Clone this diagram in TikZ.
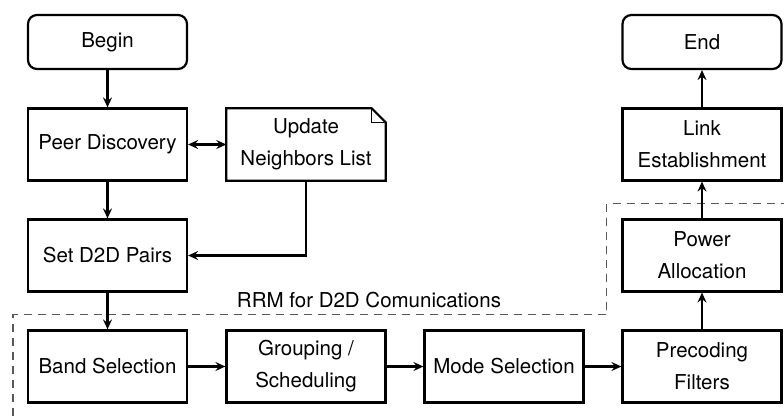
\documentclass[tikz,border=0pt]{standalone}
\usepackage{fontspec}
\setmainfont{TeX Gyre Heros}
\usetikzlibrary{arrows.meta}
\begin{document}
\begin{tikzpicture}[x=1pt,y=-1pt,
  every node/.style={font=\fontsize{20.5}{32}\selectfont, align=center},
  box/.style={draw, line width=2.2pt, minimum width=159pt, minimum height=72pt, inner sep=0pt},
  term/.style={draw, line width=2.2pt, rounded corners=9pt, minimum width=159pt, minimum height=54pt, inner sep=0pt},
  arr/.style={line width=2.2pt, -{Stealth[length=10pt,width=9pt,inset=3.5pt]}},
  darr/.style={line width=2.2pt, {Stealth[length=10pt,width=9pt,inset=3.5pt]}-{Stealth[length=10pt,width=9pt,inset=3.5pt]}},
  region/.style={dashed, draw=black!65, line width=1.4pt, dash pattern=on 8pt off 6pt}]
\useasboundingbox (0,0) rectangle (784,415);
\begin{scope}
\clip (0,0) rectangle (784,415);
\draw[region] (13,430) -- (13,314.5) -- (606.5,314.5) -- (606.5,203.5) -- (800,203.5);
\end{scope}
\node (rrm) at (369,300) {RRM for D2D Comunications};
\node[term] (begin) at (107.5,42) {Begin};
\node[box] (peer) at (107.5,144.5) {Peer Discovery};
\node[minimum width=159pt, minimum height=72pt, inner sep=0pt] (upd) at (306,144.5) {Update\\Neighbors List};
\draw[line width=2.2pt] (upd.south west) -- (upd.north west) -- ([xshift=-14pt]upd.north east) -- ([yshift=-14pt]upd.north east) -- (upd.south east) -- cycle;
\draw[line width=1pt] ([xshift=-14pt]upd.north east) |- ([yshift=-14pt]upd.north east);
\node[box] (set) at (107.5,255.5) {Set D2D Pairs};
\node[box] (band) at (107.5,366.5) {Band Selection};
\node[box] (grp) at (306,366.5) {Grouping /\\Scheduling};
\node[box] (mode) at (504,366.5) {Mode Selection};
\node[box] (prec) at (702,366.5) {Precoding\\Filters};
\node[box] (pow) at (702,255.5) {Power\\Allocation};
\node[box] (link) at (702,144.5) {Link\\Establishment};
\node[term] (end) at (702,42) {End};
\draw[arr] (begin) -- (peer);
\draw[darr] (peer) -- (upd);
\draw[arr] (peer) -- (set);
\draw[arr] (upd.south) |- (set.east);
\draw[arr] (set) -- (band);
\draw[arr] (band) -- (grp);
\draw[arr] (grp) -- (mode);
\draw[arr] (mode) -- (prec);
\draw[arr] (prec) -- (pow);
\draw[arr] (pow) -- (link);
\draw[arr] (link) -- (end);
\end{tikzpicture}
\end{document}
